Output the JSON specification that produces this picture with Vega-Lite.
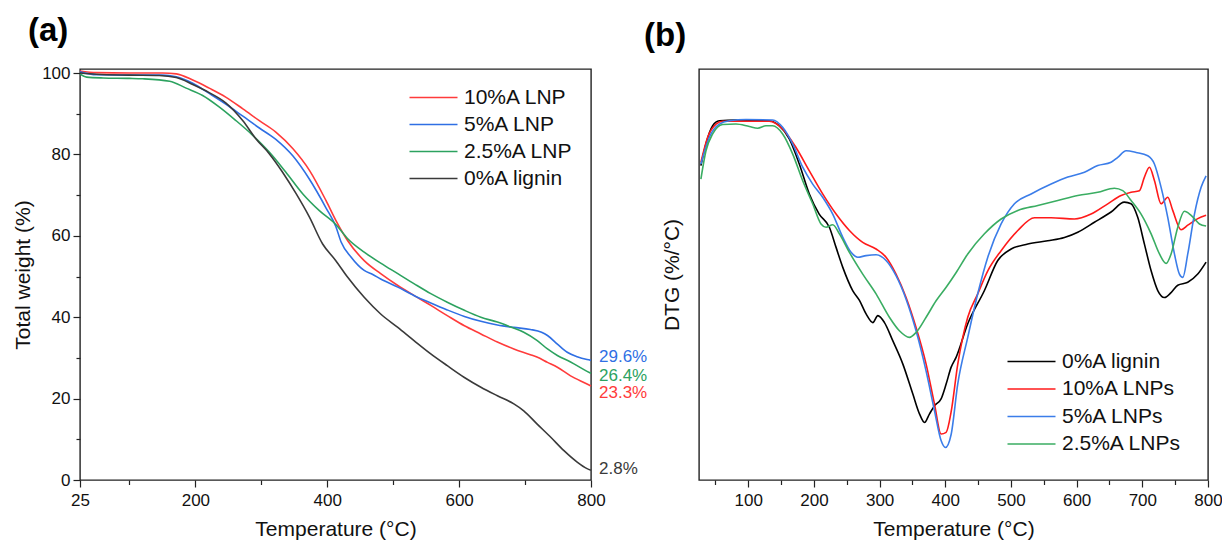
{
  "$schema": "https://vega.github.io/schema/vega-lite/v6.json",
  "padding": {"left": 11, "top": 14, "right": 5, "bottom": 5},
  "background": "white",
  "config": {
    "font": "Liberation Sans",
    "view": {"stroke": "#222222", "strokeWidth": 1.4},
    "axis": {"grid": false, "domain": false, "tickColor": "#222222", "tickWidth": 1.2, "labelColor": "#111111", "titleColor": "#111111", "labelFontSize": 17, "titleFontSize": 21, "titleFontWeight": "normal", "labelFlush": false, "labelOverlap": false},
    "legend": {"orient": "none", "title": null, "symbolType": "M-4,0H4", "symbolSize": 144, "symbolStrokeWidth": 1.5, "labelFontSize": 21, "labelColor": "#111111", "padding": 0, "symbolOffset": 17, "labelOffset": 20},
    "title": {"fontSize": 33, "fontWeight": "bold", "color": "#000000", "anchor": "start", "frame": "group", "baseline": "alphabetic"}
  },
  "datasets": {
    "tga": [
      {"series": "10%A LNP", "T": 25, "W": 100.5}, {"series": "10%A LNP", "T": 50, "W": 100.1}, {"series": "10%A LNP", "T": 100, "W": 100}, {"series": "10%A LNP", "T": 150, "W": 100}, {"series": "10%A LNP", "T": 171, "W": 99.8}, {"series": "10%A LNP", "T": 196, "W": 98.3}, {"series": "10%A LNP", "T": 221, "W": 96.3}, {"series": "10%A LNP", "T": 246, "W": 94.1}, {"series": "10%A LNP", "T": 272, "W": 91.2}, {"series": "10%A LNP", "T": 297, "W": 88.3}, {"series": "10%A LNP", "T": 322, "W": 85.5}, {"series": "10%A LNP", "T": 348, "W": 81.4}, {"series": "10%A LNP", "T": 373, "W": 76.1}, {"series": "10%A LNP", "T": 398, "W": 68.7}, {"series": "10%A LNP", "T": 413, "W": 63.8}, {"series": "10%A LNP", "T": 431, "W": 58.8}, {"series": "10%A LNP", "T": 456, "W": 53.9}, {"series": "10%A LNP", "T": 481, "W": 50.7}, {"series": "10%A LNP", "T": 507, "W": 47.8}, {"series": "10%A LNP", "T": 532, "W": 45.3}, {"series": "10%A LNP", "T": 557, "W": 42.9}, {"series": "10%A LNP", "T": 582, "W": 40.4}, {"series": "10%A LNP", "T": 608, "W": 37.9}, {"series": "10%A LNP", "T": 633, "W": 35.9}, {"series": "10%A LNP", "T": 658, "W": 33.9}, {"series": "10%A LNP", "T": 683, "W": 32.2}, {"series": "10%A LNP", "T": 708, "W": 30.8}, {"series": "10%A LNP", "T": 718, "W": 30.2}, {"series": "10%A LNP", "T": 734, "W": 28.9}, {"series": "10%A LNP", "T": 749, "W": 27.7}, {"series": "10%A LNP", "T": 769, "W": 25.6}, {"series": "10%A LNP", "T": 794, "W": 23.6}, {"series": "10%A LNP", "T": 800, "W": 23.1},
      {"series": "5%A LNP", "T": 25, "W": 100.3}, {"series": "5%A LNP", "T": 50, "W": 99.6}, {"series": "5%A LNP", "T": 100, "W": 99.5}, {"series": "5%A LNP", "T": 150, "W": 99.5}, {"series": "5%A LNP", "T": 171, "W": 99.1}, {"series": "5%A LNP", "T": 196, "W": 97.5}, {"series": "5%A LNP", "T": 221, "W": 95.0}, {"series": "5%A LNP", "T": 246, "W": 92.4}, {"series": "5%A LNP", "T": 272, "W": 89.4}, {"series": "5%A LNP", "T": 297, "W": 86.5}, {"series": "5%A LNP", "T": 322, "W": 83.7}, {"series": "5%A LNP", "T": 348, "W": 79.6}, {"series": "5%A LNP", "T": 373, "W": 73.9}, {"series": "5%A LNP", "T": 398, "W": 66.9}, {"series": "5%A LNP", "T": 413, "W": 62.3}, {"series": "5%A LNP", "T": 421, "W": 58.5}, {"series": "5%A LNP", "T": 436, "W": 54.8}, {"series": "5%A LNP", "T": 456, "W": 51.5}, {"series": "5%A LNP", "T": 469, "W": 50.5}, {"series": "5%A LNP", "T": 481, "W": 49.4}, {"series": "5%A LNP", "T": 507, "W": 47.4}, {"series": "5%A LNP", "T": 532, "W": 45.3}, {"series": "5%A LNP", "T": 557, "W": 43.5}, {"series": "5%A LNP", "T": 582, "W": 41.8}, {"series": "5%A LNP", "T": 608, "W": 40.2}, {"series": "5%A LNP", "T": 633, "W": 39.0}, {"series": "5%A LNP", "T": 658, "W": 38.1}, {"series": "5%A LNP", "T": 683, "W": 37.5}, {"series": "5%A LNP", "T": 708, "W": 37.0}, {"series": "5%A LNP", "T": 725, "W": 36.3}, {"series": "5%A LNP", "T": 734, "W": 35.5}, {"series": "5%A LNP", "T": 749, "W": 33.4}, {"series": "5%A LNP", "T": 764, "W": 31.4}, {"series": "5%A LNP", "T": 779, "W": 30.3}, {"series": "5%A LNP", "T": 794, "W": 29.6}, {"series": "5%A LNP", "T": 800, "W": 29.4},
      {"series": "2.5%A LNP", "T": 25, "W": 99.8}, {"series": "2.5%A LNP", "T": 35, "W": 99.0}, {"series": "2.5%A LNP", "T": 60, "W": 98.8}, {"series": "2.5%A LNP", "T": 100, "W": 98.7}, {"series": "2.5%A LNP", "T": 120, "W": 98.6}, {"series": "2.5%A LNP", "T": 161, "W": 98.0}, {"series": "2.5%A LNP", "T": 186, "W": 96.3}, {"series": "2.5%A LNP", "T": 211, "W": 94.5}, {"series": "2.5%A LNP", "T": 236, "W": 91.7}, {"series": "2.5%A LNP", "T": 261, "W": 88.4}, {"series": "2.5%A LNP", "T": 287, "W": 84.7}, {"series": "2.5%A LNP", "T": 312, "W": 80.6}, {"series": "2.5%A LNP", "T": 337, "W": 75.7}, {"series": "2.5%A LNP", "T": 363, "W": 70.3}, {"series": "2.5%A LNP", "T": 388, "W": 66.2}, {"series": "2.5%A LNP", "T": 413, "W": 62.8}, {"series": "2.5%A LNP", "T": 431, "W": 59.3}, {"series": "2.5%A LNP", "T": 456, "W": 56.0}, {"series": "2.5%A LNP", "T": 481, "W": 53.3}, {"series": "2.5%A LNP", "T": 507, "W": 50.7}, {"series": "2.5%A LNP", "T": 532, "W": 48.2}, {"series": "2.5%A LNP", "T": 557, "W": 45.8}, {"series": "2.5%A LNP", "T": 582, "W": 43.7}, {"series": "2.5%A LNP", "T": 608, "W": 41.7}, {"series": "2.5%A LNP", "T": 633, "W": 40.0}, {"series": "2.5%A LNP", "T": 658, "W": 38.8}, {"series": "2.5%A LNP", "T": 678, "W": 37.6}, {"series": "2.5%A LNP", "T": 698, "W": 36.3}, {"series": "2.5%A LNP", "T": 718, "W": 34.3}, {"series": "2.5%A LNP", "T": 734, "W": 32.2}, {"series": "2.5%A LNP", "T": 749, "W": 30.6}, {"series": "2.5%A LNP", "T": 769, "W": 29.0}, {"series": "2.5%A LNP", "T": 794, "W": 26.7}, {"series": "2.5%A LNP", "T": 800, "W": 26.2},
      {"series": "0%A lignin", "T": 25, "W": 100}, {"series": "0%A lignin", "T": 50, "W": 99.7}, {"series": "0%A lignin", "T": 100, "W": 99.5}, {"series": "0%A lignin", "T": 145, "W": 99.4}, {"series": "0%A lignin", "T": 171, "W": 98.9}, {"series": "0%A lignin", "T": 196, "W": 97.2}, {"series": "0%A lignin", "T": 221, "W": 95.2}, {"series": "0%A lignin", "T": 246, "W": 92.7}, {"series": "0%A lignin", "T": 272, "W": 88.3}, {"series": "0%A lignin", "T": 292, "W": 83.8}, {"series": "0%A lignin", "T": 312, "W": 80.2}, {"series": "0%A lignin", "T": 332, "W": 75.7}, {"series": "0%A lignin", "T": 353, "W": 70.3}, {"series": "0%A lignin", "T": 373, "W": 64.6}, {"series": "0%A lignin", "T": 393, "W": 58.0}, {"series": "0%A lignin", "T": 413, "W": 53.9}, {"series": "0%A lignin", "T": 431, "W": 49.8}, {"series": "0%A lignin", "T": 456, "W": 44.9}, {"series": "0%A lignin", "T": 481, "W": 40.8}, {"series": "0%A lignin", "T": 507, "W": 37.5}, {"series": "0%A lignin", "T": 532, "W": 34.2}, {"series": "0%A lignin", "T": 557, "W": 31.0}, {"series": "0%A lignin", "T": 582, "W": 28.1}, {"series": "0%A lignin", "T": 608, "W": 25.2}, {"series": "0%A lignin", "T": 633, "W": 22.8}, {"series": "0%A lignin", "T": 658, "W": 20.7}, {"series": "0%A lignin", "T": 683, "W": 18.7}, {"series": "0%A lignin", "T": 698, "W": 17.0}, {"series": "0%A lignin", "T": 718, "W": 13.8}, {"series": "0%A lignin", "T": 739, "W": 10.5}, {"series": "0%A lignin", "T": 759, "W": 7.2}, {"series": "0%A lignin", "T": 779, "W": 4.4}, {"series": "0%A lignin", "T": 794, "W": 2.8}, {"series": "0%A lignin", "T": 800, "W": 2.4}
    ],
    "annot": [
      {"series": "5%A LNP", "T": 800, "W": 30.2, "label": "29.6%"},
      {"series": "2.5%A LNP", "T": 800, "W": 25.6, "label": "26.4%"},
      {"series": "10%A LNP", "T": 800, "W": 21.3, "label": "23.3%"},
      {"series": "0%A lignin", "T": 800, "W": 2.7, "label": "2.8%"}
    ],
    "dtg": [
      {"series": "0%A lignin", "T": 27.9, "D": 76.5}, {"series": "0%A lignin", "T": 35.6, "D": 81.8}, {"series": "0%A lignin", "T": 45.8, "D": 86.2}, {"series": "0%A lignin", "T": 56, "D": 87.4}, {"series": "0%A lignin", "T": 81.3, "D": 87.6}, {"series": "0%A lignin", "T": 132, "D": 87.4}, {"series": "0%A lignin", "T": 147, "D": 86.2}, {"series": "0%A lignin", "T": 162.5, "D": 83.0}, {"series": "0%A lignin", "T": 177.7, "D": 76.9}, {"series": "0%A lignin", "T": 193, "D": 69.6}, {"series": "0%A lignin", "T": 208, "D": 64.7}, {"series": "0%A lignin", "T": 223.5, "D": 61.5}, {"series": "0%A lignin", "T": 233.7, "D": 56.6}, {"series": "0%A lignin", "T": 243.8, "D": 51.8}, {"series": "0%A lignin", "T": 259, "D": 46.1}, {"series": "0%A lignin", "T": 269.3, "D": 43.7}, {"series": "0%A lignin", "T": 279.4, "D": 40.4}, {"series": "0%A lignin", "T": 289.6, "D": 38.3}, {"series": "0%A lignin", "T": 297.3, "D": 40.0}, {"series": "0%A lignin", "T": 307.4, "D": 38.3}, {"series": "0%A lignin", "T": 320, "D": 33.9}, {"series": "0%A lignin", "T": 335.4, "D": 28.2}, {"series": "0%A lignin", "T": 350.6, "D": 20.9}, {"series": "0%A lignin", "T": 360.7, "D": 16.1}, {"series": "0%A lignin", "T": 368.4, "D": 14.0}, {"series": "0%A lignin", "T": 376, "D": 16.1}, {"series": "0%A lignin", "T": 383.7, "D": 18.1}, {"series": "0%A lignin", "T": 393.8, "D": 19.8}, {"series": "0%A lignin", "T": 401.4, "D": 23.4}, {"series": "0%A lignin", "T": 408.8, "D": 27.4}, {"series": "0%A lignin", "T": 416.6, "D": 29.9}, {"series": "0%A lignin", "T": 434.2, "D": 38.0}, {"series": "0%A lignin", "T": 459.6, "D": 46.1}, {"series": "0%A lignin", "T": 479.9, "D": 53.4}, {"series": "0%A lignin", "T": 500.2, "D": 56.2}, {"series": "0%A lignin", "T": 525.6, "D": 57.4}, {"series": "0%A lignin", "T": 556, "D": 58.2}, {"series": "0%A lignin", "T": 581.4, "D": 59.0}, {"series": "0%A lignin", "T": 601.7, "D": 60.3}, {"series": "0%A lignin", "T": 627, "D": 62.7}, {"series": "0%A lignin", "T": 652.4, "D": 65.2}, {"series": "0%A lignin", "T": 672.7, "D": 67.6}, {"series": "0%A lignin", "T": 682.9, "D": 67.2}, {"series": "0%A lignin", "T": 693, "D": 63.9}, {"series": "0%A lignin", "T": 703.2, "D": 57.4}, {"series": "0%A lignin", "T": 713.4, "D": 50.9}, {"series": "0%A lignin", "T": 723.5, "D": 46.1}, {"series": "0%A lignin", "T": 733.7, "D": 44.4}, {"series": "0%A lignin", "T": 743.8, "D": 45.6}, {"series": "0%A lignin", "T": 754, "D": 47.4}, {"series": "0%A lignin", "T": 769.2, "D": 48.1}, {"series": "0%A lignin", "T": 784.4, "D": 50.1}, {"series": "0%A lignin", "T": 797.1, "D": 53.0},
      {"series": "10%A LNPs", "T": 27.9, "D": 77.3}, {"series": "10%A LNPs", "T": 38.2, "D": 83.4}, {"series": "10%A LNPs", "T": 50.9, "D": 86.6}, {"series": "10%A LNPs", "T": 61, "D": 87.3}, {"series": "10%A LNPs", "T": 96.6, "D": 87.3}, {"series": "10%A LNPs", "T": 132, "D": 87.3}, {"series": "10%A LNPs", "T": 152.4, "D": 85.4}, {"series": "10%A LNPs", "T": 172.7, "D": 80.9}, {"series": "10%A LNPs", "T": 193, "D": 75.2}, {"series": "10%A LNPs", "T": 213.3, "D": 69.6}, {"series": "10%A LNPs", "T": 233.7, "D": 64.7}, {"series": "10%A LNPs", "T": 254, "D": 60.7}, {"series": "10%A LNPs", "T": 274.3, "D": 57.8}, {"series": "10%A LNPs", "T": 294.6, "D": 56.2}, {"series": "10%A LNPs", "T": 309.8, "D": 54.2}, {"series": "10%A LNPs", "T": 325, "D": 50.1}, {"series": "10%A LNPs", "T": 340.3, "D": 44.4}, {"series": "10%A LNPs", "T": 355.5, "D": 37.1}, {"series": "10%A LNPs", "T": 370.8, "D": 28.2}, {"series": "10%A LNPs", "T": 383.5, "D": 18.5}, {"series": "10%A LNPs", "T": 393.6, "D": 11.2}, {"series": "10%A LNPs", "T": 401.3, "D": 11.6}, {"series": "10%A LNPs", "T": 408.8, "D": 16.5}, {"series": "10%A LNPs", "T": 419, "D": 28.2}, {"series": "10%A LNPs", "T": 434.2, "D": 39.6}, {"series": "10%A LNPs", "T": 449.4, "D": 45.3}, {"series": "10%A LNPs", "T": 464.7, "D": 50.9}, {"series": "10%A LNPs", "T": 485, "D": 55.8}, {"series": "10%A LNPs", "T": 510.4, "D": 60.7}, {"series": "10%A LNPs", "T": 535.8, "D": 63.8}, {"series": "10%A LNPs", "T": 561.1, "D": 63.8}, {"series": "10%A LNPs", "T": 596.7, "D": 63.5}, {"series": "10%A LNPs", "T": 622, "D": 64.7}, {"series": "10%A LNPs", "T": 647.4, "D": 67.2}, {"series": "10%A LNPs", "T": 667.7, "D": 69.2}, {"series": "10%A LNPs", "T": 682.9, "D": 70.0}, {"series": "10%A LNPs", "T": 695.6, "D": 70.4}, {"series": "10%A LNPs", "T": 703.2, "D": 73.7}, {"series": "10%A LNPs", "T": 710.8, "D": 76.1}, {"series": "10%A LNPs", "T": 718.4, "D": 72.9}, {"series": "10%A LNPs", "T": 728.6, "D": 67.2}, {"series": "10%A LNPs", "T": 738.7, "D": 68.8}, {"series": "10%A LNPs", "T": 746.3, "D": 65.6}, {"series": "10%A LNPs", "T": 759, "D": 60.9}, {"series": "10%A LNPs", "T": 769.2, "D": 62.0}, {"series": "10%A LNPs", "T": 784.4, "D": 63.6}, {"series": "10%A LNPs", "T": 797.1, "D": 64.4},
      {"series": "5%A LNPs", "T": 27.9, "D": 76.9}, {"series": "5%A LNPs", "T": 40.7, "D": 83.4}, {"series": "5%A LNPs", "T": 56, "D": 86.6}, {"series": "5%A LNPs", "T": 71.2, "D": 87.4}, {"series": "5%A LNPs", "T": 96.6, "D": 87.7}, {"series": "5%A LNPs", "T": 137.2, "D": 87.6}, {"series": "5%A LNPs", "T": 152.4, "D": 85.8}, {"series": "5%A LNPs", "T": 167.7, "D": 81.7}, {"series": "5%A LNPs", "T": 182.9, "D": 76.1}, {"series": "5%A LNPs", "T": 198.1, "D": 72.0}, {"series": "5%A LNPs", "T": 213.3, "D": 68.8}, {"series": "5%A LNPs", "T": 228.6, "D": 64.7}, {"series": "5%A LNPs", "T": 243.8, "D": 59.1}, {"series": "5%A LNPs", "T": 256.5, "D": 55.4}, {"series": "5%A LNPs", "T": 266.7, "D": 54.2}, {"series": "5%A LNPs", "T": 279.4, "D": 54.6}, {"series": "5%A LNPs", "T": 294.6, "D": 54.8}, {"series": "5%A LNPs", "T": 309.8, "D": 53.4}, {"series": "5%A LNPs", "T": 325, "D": 49.7}, {"series": "5%A LNPs", "T": 340.3, "D": 44.0}, {"series": "5%A LNPs", "T": 355.5, "D": 36.3}, {"series": "5%A LNPs", "T": 370.8, "D": 26.5}, {"series": "5%A LNPs", "T": 383.5, "D": 16.9}, {"series": "5%A LNPs", "T": 393.6, "D": 9.6}, {"series": "5%A LNPs", "T": 400.2, "D": 7.9}, {"series": "5%A LNPs", "T": 408.8, "D": 11.0}, {"series": "5%A LNPs", "T": 419, "D": 23.4}, {"series": "5%A LNPs", "T": 434.2, "D": 34.7}, {"series": "5%A LNPs", "T": 449.4, "D": 45.3}, {"series": "5%A LNPs", "T": 464.7, "D": 54.2}, {"series": "5%A LNPs", "T": 485, "D": 62.3}, {"series": "5%A LNPs", "T": 505.3, "D": 67.2}, {"series": "5%A LNPs", "T": 530.7, "D": 69.6}, {"series": "5%A LNPs", "T": 561.1, "D": 72.0}, {"series": "5%A LNPs", "T": 586.5, "D": 73.7}, {"series": "5%A LNPs", "T": 611.9, "D": 74.9}, {"series": "5%A LNPs", "T": 632.2, "D": 76.5}, {"series": "5%A LNPs", "T": 652.4, "D": 77.3}, {"series": "5%A LNPs", "T": 662.6, "D": 78.5}, {"series": "5%A LNPs", "T": 675.3, "D": 80.1}, {"series": "5%A LNPs", "T": 690.5, "D": 79.7}, {"series": "5%A LNPs", "T": 708.3, "D": 78.9}, {"series": "5%A LNPs", "T": 718.4, "D": 76.9}, {"series": "5%A LNPs", "T": 728.6, "D": 71.2}, {"series": "5%A LNPs", "T": 738.7, "D": 63.9}, {"series": "5%A LNPs", "T": 748.9, "D": 55.0}, {"series": "5%A LNPs", "T": 756.5, "D": 50.1}, {"series": "5%A LNPs", "T": 761.6, "D": 49.3}, {"series": "5%A LNPs", "T": 769.2, "D": 55.0}, {"series": "5%A LNPs", "T": 779.4, "D": 64.7}, {"series": "5%A LNPs", "T": 789.5, "D": 71.2}, {"series": "5%A LNPs", "T": 797.1, "D": 74.0},
      {"series": "2.5%A LNPs", "T": 27.9, "D": 73.2}, {"series": "2.5%A LNPs", "T": 35.6, "D": 80.1}, {"series": "2.5%A LNPs", "T": 45.8, "D": 84.2}, {"series": "2.5%A LNPs", "T": 61, "D": 86.5}, {"series": "2.5%A LNPs", "T": 81.3, "D": 86.6}, {"series": "2.5%A LNPs", "T": 101.6, "D": 86.0}, {"series": "2.5%A LNPs", "T": 114.3, "D": 85.6}, {"series": "2.5%A LNPs", "T": 127, "D": 86.2}, {"series": "2.5%A LNPs", "T": 137.2, "D": 86.2}, {"series": "2.5%A LNPs", "T": 152.4, "D": 84.2}, {"series": "2.5%A LNPs", "T": 167.7, "D": 79.3}, {"series": "2.5%A LNPs", "T": 182.9, "D": 72.8}, {"series": "2.5%A LNPs", "T": 198.1, "D": 67.2}, {"series": "2.5%A LNPs", "T": 210.8, "D": 62.3}, {"series": "2.5%A LNPs", "T": 218.5, "D": 61.5}, {"series": "2.5%A LNPs", "T": 228.6, "D": 62.1}, {"series": "2.5%A LNPs", "T": 238.8, "D": 59.9}, {"series": "2.5%A LNPs", "T": 254, "D": 55.4}, {"series": "2.5%A LNPs", "T": 274.3, "D": 50.1}, {"series": "2.5%A LNPs", "T": 294.6, "D": 45.3}, {"series": "2.5%A LNPs", "T": 314.9, "D": 39.6}, {"series": "2.5%A LNPs", "T": 330.1, "D": 36.3}, {"series": "2.5%A LNPs", "T": 345.4, "D": 34.7}, {"series": "2.5%A LNPs", "T": 355.5, "D": 35.9}, {"series": "2.5%A LNPs", "T": 370.8, "D": 39.6}, {"series": "2.5%A LNPs", "T": 386, "D": 43.6}, {"series": "2.5%A LNPs", "T": 401.3, "D": 46.9}, {"series": "2.5%A LNPs", "T": 416.6, "D": 50.5}, {"series": "2.5%A LNPs", "T": 434.2, "D": 55.0}, {"series": "2.5%A LNPs", "T": 459.6, "D": 59.9}, {"series": "2.5%A LNPs", "T": 485, "D": 63.5}, {"series": "2.5%A LNPs", "T": 510.4, "D": 65.6}, {"series": "2.5%A LNPs", "T": 540.9, "D": 66.8}, {"series": "2.5%A LNPs", "T": 571.3, "D": 68.0}, {"series": "2.5%A LNPs", "T": 601.7, "D": 69.2}, {"series": "2.5%A LNPs", "T": 632.2, "D": 70.0}, {"series": "2.5%A LNPs", "T": 657.5, "D": 71.0}, {"series": "2.5%A LNPs", "T": 670.2, "D": 70.4}, {"series": "2.5%A LNPs", "T": 682.9, "D": 68.0}, {"series": "2.5%A LNPs", "T": 698.1, "D": 64.7}, {"series": "2.5%A LNPs", "T": 713.4, "D": 59.9}, {"series": "2.5%A LNPs", "T": 726.1, "D": 55.0}, {"series": "2.5%A LNPs", "T": 736.2, "D": 52.7}, {"series": "2.5%A LNPs", "T": 743.8, "D": 55.0}, {"series": "2.5%A LNPs", "T": 754, "D": 61.5}, {"series": "2.5%A LNPs", "T": 764.1, "D": 65.4}, {"series": "2.5%A LNPs", "T": 774.3, "D": 64.4}, {"series": "2.5%A LNPs", "T": 787, "D": 62.3}, {"series": "2.5%A LNPs", "T": 797.1, "D": 61.8}
    ]
  },
  "hconcat": [
    {
      "width": 511,
      "height": 411,
      "title": {"text": "(a)", "offset": 16, "dx": -52},
      "layer": [
        {
          "data": {"name": "tga"},
          "mark": {"type": "line", "strokeWidth": 1.6, "interpolate": "monotone"},
          "encoding": {
            "x": {"field": "T", "type": "quantitative", "scale": {"domain": [25, 800], "nice": false, "zero": false},
              "axis": {"title": "Temperature (°C)", "values": [25, 100, 200, 300, 400, 500, 600, 700, 800], "format": "d",
                "labelExpr": "indexof([25,200,400,600,800], datum.value) >= 0 ? datum.label : ''",
                "tickSize": {"condition": {"test": "indexof([25,200,400,600,800], datum.value) >= 0", "value": 7}, "value": 4.5},
                "labelPadding": 5, "titlePadding": 10}},
            "y": {"field": "W", "type": "quantitative", "scale": {"domain": [0, 101], "nice": false},
              "axis": {"title": "Total weight (%)", "values": [0, 10, 20, 30, 40, 50, 60, 70, 80, 90, 100], "format": "d",
                "labelExpr": "datum.value % 20 === 0 ? datum.label : ''",
                "tickSize": {"condition": {"test": "datum.value % 20 === 0", "value": 7}, "value": 4},
                "labelPadding": 3, "titlePadding": 8}},
            "color": {"field": "series", "type": "nominal",
              "scale": {"domain": ["10%A LNP", "5%A LNP", "2.5%A LNP", "0%A lignin"], "range": ["#ff3b3b", "#2f6fe4", "#2ca25f", "#3a3a3a"]},
              "legend": {"legendX": 326, "legendY": 18, "rowPadding": 5}}
          }
        },
        {
          "data": {"name": "annot"},
          "mark": {"type": "text", "align": "left", "baseline": "middle", "dx": 8, "fontSize": 17},
          "encoding": {
            "x": {"field": "T", "type": "quantitative"},
            "y": {"field": "W", "type": "quantitative"},
            "text": {"field": "label"},
            "color": {"field": "series", "type": "nominal", "legend": null}
          }
        }
      ]
    },
    {
      "width": 509,
      "height": 411,
      "title": {"text": "(b)", "offset": 16, "dx": -55},
      "data": {"name": "dtg"},
      "mark": {"type": "line", "strokeWidth": 1.6, "interpolate": "monotone"},
      "encoding": {
        "x": {"field": "T", "type": "quantitative", "scale": {"domain": [25, 800], "nice": false, "zero": false},
          "axis": {"title": "Temperature (°C)", "values": [50, 100, 150, 200, 250, 300, 350, 400, 450, 500, 550, 600, 650, 700, 750, 800], "format": "d",
            "labelExpr": "datum.value % 100 === 0 ? datum.label : ''",
            "tickSize": {"condition": {"test": "datum.value % 100 === 0", "value": 7}, "value": 4.5},
            "labelPadding": 5, "titlePadding": 10}},
        "y": {"field": "D", "type": "quantitative", "scale": {"domain": [0, 100], "nice": false},
          "axis": {"title": "DTG (%/°C)", "ticks": false, "labels": false, "titlePadding": 17}},
        "color": {"field": "series", "type": "nominal",
          "scale": {"domain": ["0%A lignin", "10%A LNPs", "5%A LNPs", "2.5%A LNPs"], "range": ["#000000", "#ff1a1a", "#3b7de9", "#3aad62"]},
          "legend": {"legendX": 305, "legendY": 282, "rowPadding": 5.5}}
      }
    }
  ],
  "spacing": 108,
  "bounds": "flush",
  "resolve": {"scale": {"color": "independent"}, "legend": {"color": "independent"}}
}
